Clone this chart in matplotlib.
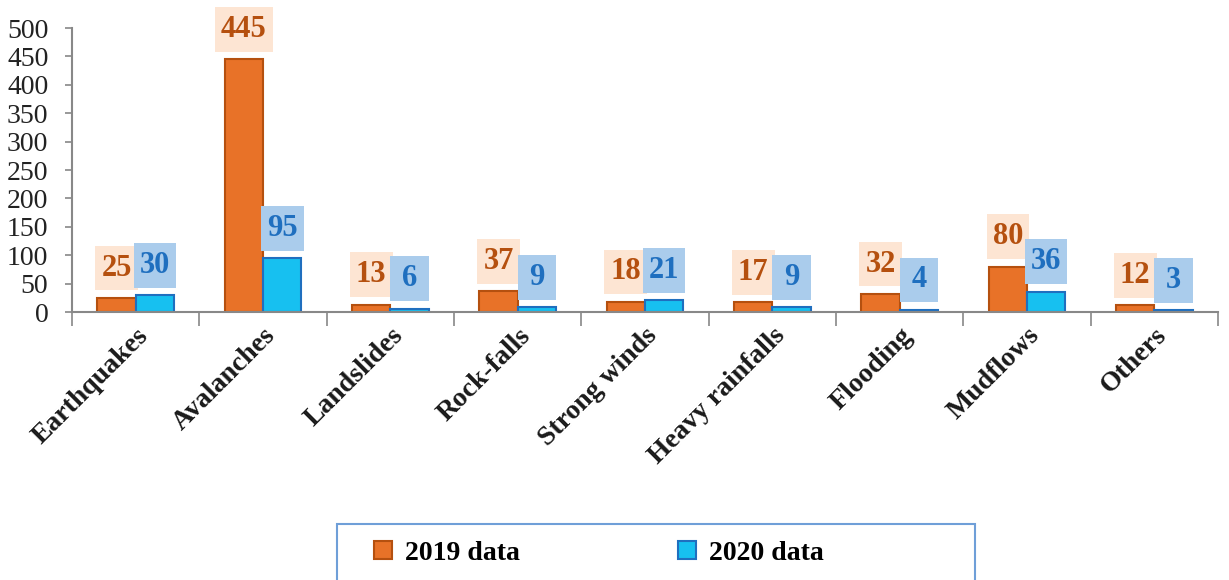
import matplotlib.pyplot as plt
import numpy as np
from matplotlib.lines import Line2D
from matplotlib.patches import Rectangle
from matplotlib.path import Path

CATEGORIES = ["Earthquakes", "Avalanches", "Landslides", "Rock-falls", "Strong winds",
              "Heavy rainfalls", "Flooding", "Mudflows", "Others"]
DATA_2019 = [25, 445, 13, 37, 18, 17, 32, 80, 12]
DATA_2020 = [30, 95, 6, 9, 21, 9, 4, 36, 3]
SERIES = ["2019 data", "2020 data"]

plt.rcParams["font.family"] = ["Liberation Serif", "DejaVu Serif"]

ORANGE = "#E87228"
ORANGE_EDGE = "#B5500F"
ORANGE_BOX = "#FDE5D3"
BLUE = "#17C0F0"
BLUE_EDGE = "#1F6FBF"
BLUE_TEXT = "#1F6FBF"
BLUE_BOX = "#AACCEC"
AXIS_GREY = "#888888"


def label_box(x0, y0, width, height, mutation_size):
    # narrow sides, taller top/bottom; single digits get a wider box
    min_w = 0.85 * mutation_size
    px = 0.2 * mutation_size + max(0, (min_w - width) / 2)
    py = 0.26 * mutation_size
    return Path([(x0 - px, y0 - py), (x0 + width + px, y0 - py),
                 (x0 + width + px, y0 + height + py), (x0 - px, y0 + height + py),
                 (x0 - px, y0 - py)], closed=True)


fig = plt.figure(figsize=(12.29, 5.8), dpi=100)
ax = fig.add_axes([72 / 1229, 1 - 312 / 580, (1218 - 72) / 1229, (312 - 28) / 580])

x = np.arange(len(CATEGORIES))
w = 0.3
bars1 = ax.bar(x - w / 2, DATA_2019, w, color=ORANGE, edgecolor=ORANGE_EDGE, linewidth=1.5)
bars2 = ax.bar(x + w / 2, DATA_2020, w, color=BLUE, edgecolor=BLUE_EDGE, linewidth=1.5)

for bars, vals, tc, bc in [(bars1, DATA_2019, ORANGE_EDGE, ORANGE_BOX),
                           (bars2, DATA_2020, BLUE_TEXT, BLUE_BOX)]:
    for b, v in zip(bars, vals):
        ax.annotate(str(v), (b.get_x() + b.get_width() / 2, v), xytext=(0, 11),
                    textcoords="offset points", ha="center", va="bottom",
                    fontsize=22, fontweight="bold", color=tc, clip_on=False,
                    bbox=dict(boxstyle=label_box, fc=bc, ec="none"))

ax.set_xlim(-0.5, len(CATEGORIES) - 0.5)
ax.set_ylim(0, 500)
ax.set_yticks(np.arange(0, 501, 50))
ax.tick_params(axis="y", labelsize=20, colors=AXIS_GREY, labelcolor="#222222",
               length=5, width=1.2, pad=12)

ax.set_xticks(x)
ax.set_xticklabels(CATEGORIES, rotation=45, ha="right", va="top", rotation_mode="anchor",
                   fontsize=20, fontweight="bold", color="#1a1a1a")
ax.tick_params(axis="x", which="major", length=0, pad=8)
ax.set_xticks(np.arange(-0.5, len(CATEGORIES)), minor=True)
ax.tick_params(axis="x", which="minor", length=10, width=1.2, color=AXIS_GREY)

for s in ["top", "right"]:
    ax.spines[s].set_visible(False)
for s in ["left", "bottom"]:
    ax.spines[s].set_color(AXIS_GREY)
    ax.spines[s].set_linewidth(1.5)

# legend frame runs off the bottom of the image
fig.patches.append(Rectangle((337 / 1229, -0.1), (975 - 337) / 1229, 0.1 + 56 / 580,
                             transform=fig.transFigure, fill=False,
                             edgecolor="#6F9FD8", linewidth=1.5))
handles = [Line2D([], [], marker="s", linestyle="none", markersize=13,
                  markerfacecolor=c, markeredgecolor=e, markeredgewidth=1.5)
           for c, e in [(ORANGE, ORANGE_EDGE), (BLUE, BLUE_EDGE)]]
fig.legend(handles, SERIES, loc="center left", ncol=2,
           bbox_to_anchor=(372 / 1229, 1 - 553 / 580),
           prop={"size": 20, "weight": "bold"}, frameon=False,
           handlelength=0.8, handletextpad=0.4, columnspacing=5.6, borderpad=0,
           borderaxespad=0)

fig.savefig("out.png", dpi=100)
